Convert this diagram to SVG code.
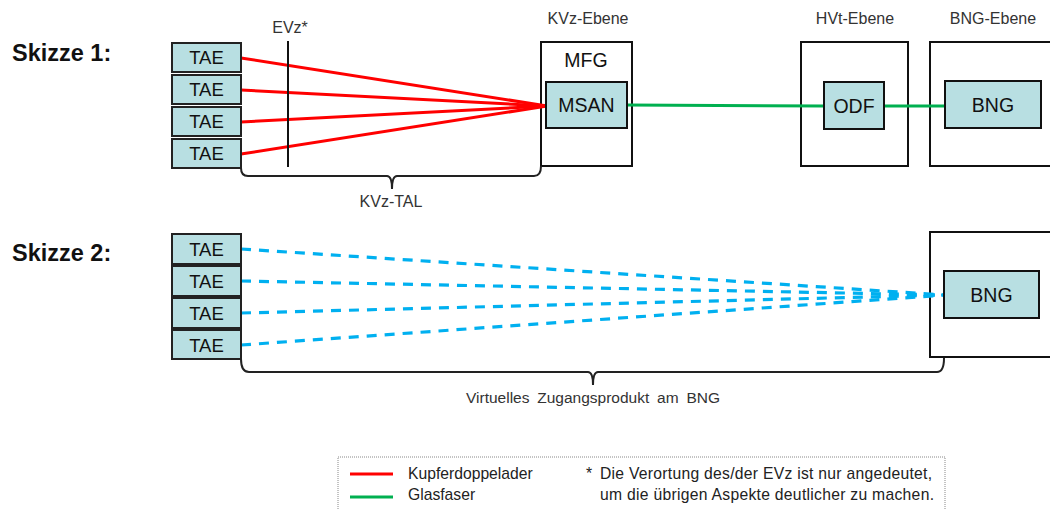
<svg xmlns="http://www.w3.org/2000/svg" width="1050" height="509" viewBox="0 0 1050 509">
<style>
text{font-family:"Liberation Sans",Arial,sans-serif;fill:#111}
.title{font-size:23.5px;font-weight:bold}
.lbl{font-size:16px;fill:#333;text-anchor:middle}
.tae{fill:#B8DFE2;stroke:#222;stroke-width:2}
.tt{font-size:18.5px;text-anchor:middle}
.dev{fill:#B8DFE2;stroke:#111;stroke-width:2}
.dt{font-size:19.5px;text-anchor:middle}
.frame{fill:#fff;stroke:#111;stroke-width:2}
.cu{stroke:#FF0000;stroke-width:3;fill:none}
.gf{stroke:#00B050;stroke-width:3;fill:none}
.vz{stroke:#00B0F0;stroke-width:3.2;fill:none;stroke-dasharray:10 8}
.brace{stroke:#222;stroke-width:2;fill:none}
.leg{font-size:15.7px;fill:#222}
</style>
<rect width="1050" height="509" fill="#fff"/>
<text class="title" x="12" y="61">Skizze 1:</text>
<text class="title" x="12" y="261">Skizze 2:</text>
<text class="lbl" x="290" y="33">EVz*</text>
<text class="lbl" x="588" y="24">KVz-Ebene</text>
<text class="lbl" x="855" y="24">HVt-Ebene</text>
<text class="lbl" x="993" y="24">BNG-Ebene</text>
<g id="mfg"><rect class="frame" x="541" y="42" width="91" height="124"/><text class="dt" x="586" y="67">MFG</text></g>
<g id="hvt"><rect class="frame" x="801" y="42" width="107" height="124"/></g>
<g id="bng-ebene"><rect class="frame" x="930" y="42" width="130" height="124"/></g>
<g id="bng-frame2"><rect class="frame" x="930" y="232" width="130" height="125"/></g>
<g id="connectors">
<line class="cu" x1="241" y1="58" x2="547" y2="106"/>
<line class="cu" x1="241" y1="90" x2="547" y2="106"/>
<line class="cu" x1="241" y1="122" x2="547" y2="106"/>
<line class="cu" x1="241" y1="154" x2="547" y2="106"/>
<line class="gf" x1="627" y1="105" x2="824" y2="106"/>
<line class="gf" x1="884" y1="106" x2="945" y2="106"/>
<line class="vz" x1="241" y1="249" x2="945" y2="295"/>
<line class="vz" x1="241" y1="281" x2="945" y2="295"/>
<line class="vz" x1="241" y1="313" x2="945" y2="295"/>
<line class="vz" x1="241" y1="345" x2="945" y2="295"/>
</g>
<line x1="288" y1="41" x2="288" y2="167" stroke="#111" stroke-width="2"/>
<g id="tae1"><rect class="tae" x="172" y="43" width="69" height="29"/><text class="tt" x="206.5" y="64">TAE</text></g>
<g id="tae2"><rect class="tae" x="172" y="75" width="69" height="29"/><text class="tt" x="206.5" y="96">TAE</text></g>
<g id="tae3"><rect class="tae" x="172" y="107" width="69" height="29"/><text class="tt" x="206.5" y="128">TAE</text></g>
<g id="tae4"><rect class="tae" x="172" y="139" width="69" height="29"/><text class="tt" x="206.5" y="160">TAE</text></g>
<g id="tae5"><rect class="tae" x="172" y="234" width="69" height="30"/><text class="tt" x="206.5" y="255.5">TAE</text></g>
<g id="tae6"><rect class="tae" x="172" y="266" width="69" height="30"/><text class="tt" x="206.5" y="287.5">TAE</text></g>
<g id="tae7"><rect class="tae" x="172" y="298" width="69" height="30"/><text class="tt" x="206.5" y="319.5">TAE</text></g>
<g id="tae8"><rect class="tae" x="172" y="330" width="69" height="29"/><text class="tt" x="206.5" y="351.5">TAE</text></g>
<g id="msan"><rect class="dev" x="546" y="82" width="81" height="46"/><text class="dt" x="586.5" y="112">MSAN</text></g>
<g id="odf"><rect class="dev" x="824" y="82" width="60" height="47"/><text class="dt" x="854" y="113">ODF</text></g>
<g id="bng1"><rect class="dev" x="945" y="81" width="96" height="47"/><text class="dt" x="993" y="111.5">BNG</text></g>
<g id="bng2"><rect class="dev" x="944" y="271" width="95" height="47"/><text class="dt" x="991.5" y="301.5">BNG</text></g>
<path class="brace" d="M241,168 Q241,176 248,176 H387 Q392,176 392,189 Q392,176 397,176 H534 Q541,176 541,166"/>
<text class="lbl" x="391" y="207">KVz-TAL</text>
<path class="brace" d="M241,359 Q241,372 249,372 H588 Q593,372 593,385 Q593,372 598,372 H937 Q944,372 944,358"/>
<text class="lbl" x="593" y="403" word-spacing="3.5" style="font-size:15.5px">Virtuelles Zugangsprodukt am BNG</text>
<g id="legend">
<rect x="338" y="457" width="607" height="70" fill="none" stroke="#888" stroke-width="1" stroke-dasharray="1 1"/>
<line x1="350" y1="474" x2="393" y2="474" stroke="#FF0000" stroke-width="3"/>
<line x1="350" y1="497" x2="393" y2="497" stroke="#00B050" stroke-width="3"/>
<text class="leg" x="408" y="479">Kupferdoppelader</text>
<text class="leg" x="408" y="500">Glasfaser</text>
<text class="leg" x="586" y="479">*</text>
<text class="leg" x="600" y="479" textLength="332" lengthAdjust="spacing">Die Verortung des/der EVz ist nur angedeutet,</text>
<text class="leg" x="600" y="500" textLength="334" lengthAdjust="spacing">um die übrigen Aspekte deutlicher zu machen.</text>
</g>
</svg>
